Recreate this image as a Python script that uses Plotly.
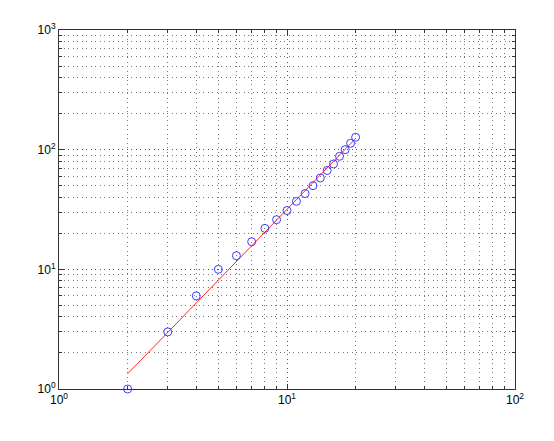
import numpy as np
import plotly.graph_objects as go

x_values = [2, 3, 4, 5, 6, 7, 8, 9, 10, 11, 12, 13, 14, 15, 16, 17, 18, 19, 20]
y_values = [1, 3, 6, 10, 13, 17, 22, 26, 31, 37, 43, 50, 58, 67, 76, 88, 100, 113, 127]

x_tick_vals = [1, 10, 100]
x_tick_text = ["10<sup>0</sup>", "10<sup>1</sup>", "10<sup>2</sup>"]
y_tick_vals = [1, 10, 100, 1000]
y_tick_text = ["10<sup>0</sup>", "10<sup>1</sup>", "10<sup>2</sup>", "10<sup>3</sup>"]
x_minor = [2, 3, 4, 5, 6, 7, 8, 9, 20, 30, 40, 50, 60, 70, 80, 90]
y_minor = [2, 3, 4, 5, 6, 7, 8, 9, 20, 30, 40, 50, 60, 70, 80, 90,
           200, 300, 400, 500, 600, 700, 800, 900]

# power-law fit in log-log space
lx = np.log10(x_values)
ly = np.log10(y_values)
slope, intercept = np.polyfit(lx, ly, 1)
fit_x = np.array([x_values[0], x_values[-1]], dtype=float)
fit_y = 10 ** (intercept + slope * np.log10(fit_x))

fig = go.Figure()
fig.add_trace(go.Scatter(x=fit_x, y=fit_y, mode="lines",
                         line=dict(color="rgb(255,40,40)", width=1), showlegend=False))
fig.add_trace(go.Scatter(x=x_values, y=y_values, mode="markers",
                         marker=dict(symbol="circle-open", size=8,
                                     line=dict(color="rgb(60,60,255)", width=1),
                                     color="rgb(60,60,255)"),
                         showlegend=False, cliponaxis=False))

axis_common = dict(
    type="log", showline=True, linecolor="#333333", linewidth=1, mirror="allticks",
    ticks="inside", ticklen=5, tickcolor="#333333",
    showgrid=True, gridcolor="#555555", griddash="1px,3.5px", gridwidth=1,
    zeroline=False, tickfont=dict(family="Liberation Sans, Arial", size=12, color="black"),
)

minor_common = dict(ticks="inside", ticklen=3, tickcolor="#333333",
                    showgrid=True, gridcolor="#777777", griddash="1px,3.5px", gridwidth=1)

fig.update_xaxes(range=[0, 2], tickvals=x_tick_vals, ticktext=x_tick_text,
                 minor=dict(tickvals=x_minor, **minor_common), **axis_common)
fig.update_yaxes(range=[0, 3], tickvals=y_tick_vals, ticktext=y_tick_text,
                 minor=dict(tickvals=y_minor, **minor_common), **axis_common)

fig.update_layout(width=546, height=433,
                  margin=dict(l=51, r=39, t=22, b=52),
                  plot_bgcolor="white", paper_bgcolor="white")

fig.write_html("out.html")
